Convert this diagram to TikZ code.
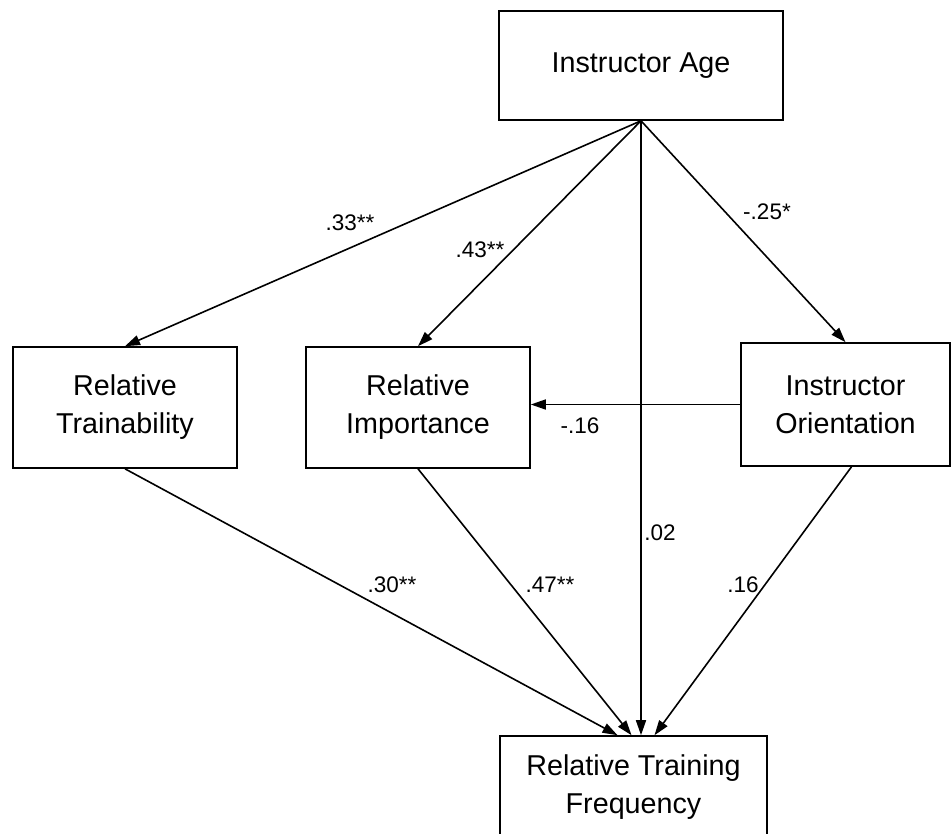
\documentclass[tikz,border=0pt]{standalone}
\usepackage{fontspec}
\setmainfont{Liberation Sans}
\usetikzlibrary{arrows.meta}
\begin{document}
\begin{tikzpicture}[x=1pt,y=-1pt]
\tikzset{boite/.style={draw, line width=1.6pt, align=center, inner sep=0pt, font=\fontsize{28.7}{38}\selectfont},
coef/.style={font=\fontsize{22.5}{26}\selectfont, inner sep=0pt},
fleche/.style={line width=1.6pt, -{Triangle[length=15pt,width=10pt]}}}
\useasboundingbox (0,0) rectangle (952,833);
\node[boite, minimum width=284pt, minimum height=109pt] (age) at (641,65.5) {Instructor Age};
\node[boite, minimum width=224pt, minimum height=121pt] (train) at (125,407.5) {Relative\\Trainability};
\node[boite, minimum width=224pt, minimum height=121pt] (import) at (418,407.5) {Relative\\Importance};
\node[boite, minimum width=209pt, minimum height=123pt] (orient) at (845.5,404.5) {Instructor\\Orientation};
\node[boite, minimum width=267pt, minimum height=102pt] (freq) at (633.5,787) {Relative Training\\Frequency};
\draw[fleche] (age.south) -- (train.north);
\draw[fleche] (age.south) -- (import.north);
\draw[fleche] (age.south) -- (orient.north);
\draw[fleche] (age.south) -- (age.south |- freq.north);
\draw[fleche] (orient.west) -- (orient.west -| import.east);
\draw[fleche] (train.south) -- ([xshift=-16pt]freq.north);
\draw[fleche] (import.south) -- ([xshift=-2pt]freq.north);
\draw[fleche] ([xshift=6pt]orient.south) -- ([xshift=21pt]freq.north);
\node[coef] (c1) at (350,223) {.33**};
\node[coef] (c2) at (480,250) {.43**};
\node[coef] (c3) at (767,212) {-.25*};
\node[coef] (c4) at (580,426) {-.16};
\node[coef] (c5) at (660,533) {.02};
\node[coef] (c6) at (392,585) {.30**};
\node[coef] (c7) at (550,585) {.47**};
\node[coef] (c8) at (743,585) {.16};
\end{tikzpicture}
\end{document}
